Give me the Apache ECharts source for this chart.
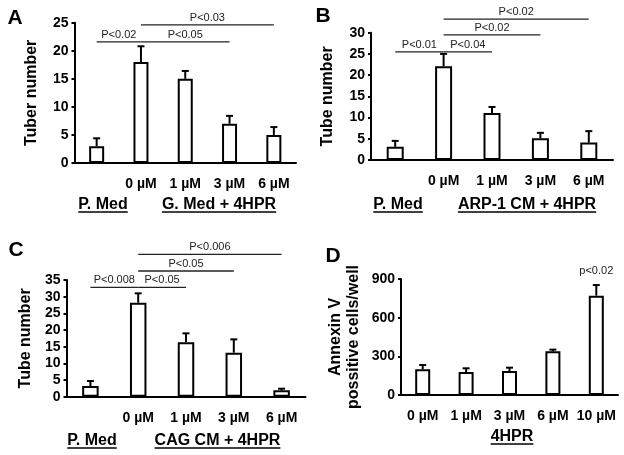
<!DOCTYPE html>
<html><head><meta charset="utf-8">
<script src="https://cdn.jsdelivr.net/npm/echarts@6/dist/echarts.min.js"></script>
<style>html,body{margin:0;padding:0;background:#fff}#c{width:624px;height:455px}</style>
</head><body><div id="c"></div>
<script>
// ---- data ----
const catsA = ['', '0 µM', '1 µM', '3 µM', '6 µM'];
const valsA = [3, 18, 15, 7, 5];
const errA = [1.4, 2.8, 1.4, 1.4, 1.4];
const sigA = [[0.14, 1.05, 21.6, 'P<0.02'], [1.05, 2.94, 21.6, 'P<0.05'], [1.05, 4.12, 24.6, 'P<0.03']];
const groupsA = ['P. Med', 'G. Med + 4HPR'];

const catsB = ['', '0 µM', '1 µM', '3 µM', '6 µM'];
const valsB = [3.1, 22.1, 11.1, 5.1, 4.1];
const errB = [1.4, 2.9, 1.4, 1.3, 2.7];
const sigB = [[0.06, 0.9, 25.5, 'P<0.01'], [1.07, 1.92, 25.5, 'P<0.04'], [1.07, 3.01, 29.5, 'P<0.02'], [1.07, 4.02, 33.2, 'P<0.02']];
const groupsB = ['P. Med', 'ARP-1 CM + 4HPR'];

const catsC = ['', '0 µM', '1 µM', '3 µM', '6 µM'];
const valsC = [3.2, 28.2, 16.3, 13.2, 1.9];
const errC = [1.5, 2.8, 2.7, 4.0, 0.5];
const sigC = [[-0.09, 0.89, 32.8, 'P<0.008'], [1.04, 2.15, 32.8, 'P<0.05'], [1.04, 3.05, 37.7, 'P<0.05'], [1.04, 3.92, 42.7, 'P<0.006']];
const groupsC = ['P. Med', 'CAG CM + 4HPR'];

const catsD = ['0 µM', '1 µM', '3 µM', '6 µM', '10 µM'];
const valsD = [199, 178, 186, 339, 771];
const errD = [34, 29, 26, 13, 82];
const sigD = [[4, 4, 905, 'p<0.02']];
const groupsD = ['4HPR'];

const yMax = [25, 30, 35, 900];
const yInterval = [5, 5, 5, 300];
const yNames = ['Tuber number', 'Tube number', 'Tube number', 'Annexin V\npossitive cells/well'];
const letters = ['A', 'B', 'C', 'D'];

// ---- layout ----
const FF = '"Liberation Sans", Arial, sans-serif';
const grids = [
  {left: 74.5, top: 22.7, width: 221.5, height: 140.3},
  {left: 371, top: 32.7, width: 242, height: 127.3},
  {left: 66.5, top: 280, width: 239, height: 116.7},
  {left: 401, top: 279, width: 217, height: 116}
];
const barW = [15, 17, 16.5, 15];
const nameGaps = [33.5, 34, 32, 38];
const catSets = [catsA, catsB, catsC, catsD];
const valSets = [valsA, valsB, valsC, valsD];
const errSets = [errA, errB, errC, errD];
const sigSets = [sigA, sigB, sigC, sigD];

const option = {
  backgroundColor: '#fff',
  animation: false,
  grid: grids.map(g => Object.assign({containLabel: false}, g)),
  xAxis: catSets.map((c, i) => ({
    type: 'category', gridIndex: i, data: c,
    axisLine: {lineStyle: {color: '#000', width: 2}},
    axisTick: {show: false},
    axisLabel: {color: '#000', fontWeight: 'bold', fontSize: 14, fontFamily: FF, margin: 14, interval: 0}
  })),
  yAxis: yMax.map((m, i) => ({
    type: 'value', gridIndex: i, min: 0, max: m, interval: yInterval[i],
    name: yNames[i], nameLocation: 'middle', nameGap: nameGaps[i], nameMoveOverlap: false,
    nameTextStyle: {color: '#000', fontWeight: 'bold', fontSize: 16, fontFamily: FF, lineHeight: 18},
    splitLine: {show: false},
    axisLine: {show: true, lineStyle: {color: '#000', width: 2}},
    axisTick: {show: true, length: 3, lineStyle: {color: '#000', width: 2}},
    axisLabel: {color: '#000', fontWeight: 'bold', fontSize: 14, fontFamily: FF, margin: 6}
  })),
  series: []
};

valSets.forEach((v, i) => {
  option.series.push({
    type: 'bar', xAxisIndex: i, yAxisIndex: i, data: v, barWidth: barW[i],
    itemStyle: {color: '#fff', borderColor: '#000', borderWidth: 2}, z: 2
  });
  option.series.push({
    type: 'custom', xAxisIndex: i, yAxisIndex: i, z: 3,
    data: v.map((val, k) => [k, val, errSets[i][k]]),
    renderItem: function (params, api) {
      const x = api.value(0), y = api.value(1), e = api.value(2);
      const p0 = api.coord([x, y]), p1 = api.coord([x, y + e]);
      return {type: 'group', children: [
        {type: 'line', shape: {x1: p0[0], y1: p0[1], x2: p1[0], y2: p1[1]}, style: {stroke: '#000', lineWidth: 2}},
        {type: 'line', shape: {x1: p1[0] - 3.5, y1: p1[1], x2: p1[0] + 3.5, y2: p1[1]}, style: {stroke: '#000', lineWidth: 2}}
      ]};
    }
  });
  option.series.push({
    type: 'custom', xAxisIndex: i, yAxisIndex: i, z: 3, clip: false,
    data: sigSets[i].map(s => [s[0], s[1], s[2], s[3]]),
    encode: {x: [0, 1], y: 2},
    dimensions: ['x1', 'x2', 'y', {name: 'label', type: 'ordinal'}],
    renderItem: function (params, api) {
      const s = sigSets[i][params.dataIndex];
      const a = api.coord([s[0], s[2]]), b = api.coord([s[1], s[2]]);
      const children = [];
      if (s[0] !== s[1]) {
        children.push({type: 'line', shape: {x1: a[0], y1: a[1], x2: b[0], y2: b[1]}, style: {stroke: '#222', lineWidth: 1.3}});
      }
      children.push({type: 'text', x: (a[0] + b[0]) / 2, y: a[1] - 1.5,
        style: {text: s[3], fill: '#222', font: '11px ' + FF, textAlign: 'center', textVerticalAlign: 'bottom'}});
      return {type: 'group', children: children};
    }
  });
});

// ---- text labels ----
const meas = document.createElement('canvas').getContext('2d');
const GFONT = 'bold 16px ' + FF;
meas.font = GFONT;
const groupPos = [
  [[groupsA[0], 103, 205], [groupsA[1], 219, 205]],
  [[groupsB[0], 398, 205], [groupsB[1], 527, 205]],
  [[groupsC[0], 92, 441], [groupsC[1], 217.5, 441]],
  [[groupsD[0], 512, 437]]
];
const graphic = [];
groupPos.forEach(list => list.forEach(([t, x, y]) => {
  const w = meas.measureText(t).width;
  graphic.push({type: 'text', x: x, y: y, style: {text: t, font: GFONT, fill: '#000', textAlign: 'center', textVerticalAlign: 'middle'}});
  graphic.push({type: 'line', shape: {x1: x - w / 2, y1: y + 7, x2: x + w / 2, y2: y + 7}, style: {stroke: '#000', lineWidth: 1.6}});
}));
const letterPos = [[15, 18], [323, 16], [16, 250], [333, 256]];
letters.forEach((l, i) => {
  graphic.push({type: 'text', x: letterPos[i][0], y: letterPos[i][1],
    style: {text: l, font: 'bold 21px ' + FF, fill: '#000', textAlign: 'center', textVerticalAlign: 'middle'}});
});
option.graphic = graphic;

const chart = echarts.init(document.getElementById('c'), null, {renderer: 'canvas'});
chart.setOption(option);
</script>
</body></html>
